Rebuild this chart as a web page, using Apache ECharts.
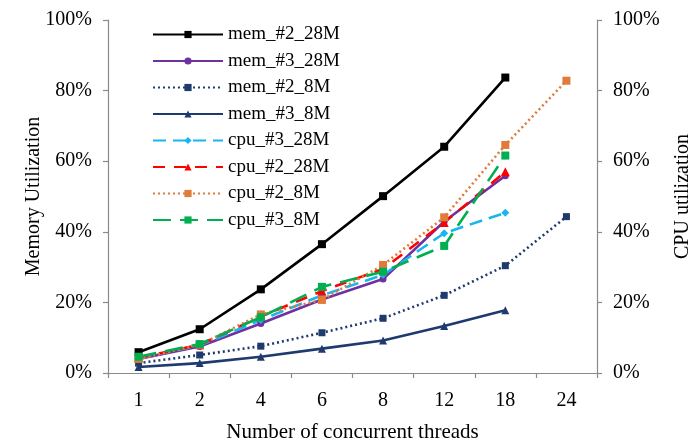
<!DOCTYPE html>
<html>
<head>
<meta charset="utf-8">
<script src="https://cdn.jsdelivr.net/npm/echarts@6/dist/echarts.min.js"></script>
<style>
  html, body { margin: 0; padding: 0; background: #fff; }
  #chart { width: 694px; height: 443px; }
</style>
</head>
<body>
<div id="chart"></div>
<script>
// Thread counts on the x axis
const threads = ['1', '2', '4', '6', '8', '12', '18', '24'];
const percentTicks = [0, 20, 40, 60, 80, 100];

// Memory utilization (%), left axis
const mem2_28M = [5.9, 12.4, 23.7, 36.5, 50.1, 64.1, 83.7, null];
const mem3_28M = [4.0, 7.5, 14.0, 20.8, 26.6, 42.9, 55.9, null];
const mem2_8M  = [2.8, 5.1, 7.6, 11.4, 15.5, 22.0, 30.4, 44.3];
const mem3_8M  = [1.7, 2.8, 4.6, 6.9, 9.2, 13.3, 17.8, null];

// CPU utilization (%), right axis
const cpu3_28M = [4.2, 7.8, 15.0, 22.0, 27.8, 39.6, 45.4, null];
const cpu2_28M = [4.3, 8.0, 16.0, 23.2, 29.5, 42.6, 57.0, null];
const cpu2_8M  = [4.0, 8.0, 16.6, 20.7, 30.6, 44.1, 64.6, 82.8];
const cpu3_8M  = [4.6, 8.2, 15.8, 24.4, 28.7, 36.0, 61.6, null];

const FONT = '"Liberation Serif", "DejaVu Serif", serif';
const AXIS_GRAY = '#8a8a8a';

function line(name, data, axis, color, symbol, size, type) {
  return {
    name: name,
    type: 'line',
    data: data,
    yAxisIndex: axis,
    symbol: symbol,
    symbolSize: size,
    showSymbol: true,
    connectNulls: false,
    itemStyle: { color: color },
    lineStyle: { color: color, width: 2.6, type: type, cap: 'butt' },
    emphasis: { disabled: true },
    animation: false
  };
}

const valueAxis = (position, name, gap) => ({
  type: 'value',
  position: position,
  min: percentTicks[0],
  max: percentTicks[percentTicks.length - 1],
  interval: 20,
  name: name,
  nameLocation: 'middle',
  nameGap: gap,
  nameRotate: 90,
  nameMoveOverlap: false,
  nameTextStyle: { fontFamily: FONT, fontSize: 20, color: '#000' },
  axisLine: { show: true, lineStyle: { color: AXIS_GRAY, width: 1.2 } },
  axisTick: { show: true, length: 5, lineStyle: { color: AXIS_GRAY, width: 1.2 } },
  axisLabel: {
    formatter: '{value}%',
    fontFamily: FONT, fontSize: 20, color: '#000', margin: 16
  },
  splitLine: { show: false }
});

const chart = echarts.init(document.getElementById('chart'), null, { renderer: 'canvas' });
chart.setOption({
  backgroundColor: '#fff',
  animation: false,
  grid: {
    left: 108, right: 97, top: 20, bottom: 70,
    containLabel: false,
    outerBoundsMode: 'none'
  },
  legend: {
    orient: 'vertical',
    left: 147,
    top: 20,
    itemWidth: 70,
    itemHeight: 9,
    itemGap: 7.5,
    textStyle: { fontFamily: FONT, fontSize: 19, color: '#000' },
    selectedMode: false
  },
  xAxis: {
    type: 'category',
    data: threads,
    boundaryGap: true,
    name: 'Number of concurrent threads',
    nameLocation: 'middle',
    nameGap: 49,
    nameMoveOverlap: false,
    nameTextStyle: { fontFamily: FONT, fontSize: 21, color: '#000' },
    axisLine: { show: true, lineStyle: { color: AXIS_GRAY, width: 1.2 } },
    axisTick: { show: true, length: 5, alignWithLabel: false, lineStyle: { color: AXIS_GRAY, width: 1.2 } },
    axisLabel: { fontFamily: FONT, fontSize: 20, color: '#000', margin: 18 }
  },
  yAxis: [
    valueAxis('left', 'Memory Utilization', 64),
    valueAxis('right', 'CPU utilization', 76)
  ],
  series: [
    line('mem_#2_28M', mem2_28M, 0, '#000000', 'rect', 8, 'solid'),
    line('mem_#3_28M', mem3_28M, 0, '#7030A0', 'circle', 7, 'solid'),
    line('mem_#2_8M',  mem2_8M,  0, '#1F3A6E', 'rect', 7, [2, 3]),
    line('mem_#3_8M',  mem3_8M,  0, '#1F3A6E', 'triangle', 8, 'solid'),
    line('cpu_#3_28M', cpu3_28M, 1, '#19B5EE', 'diamond', 8, [13, 7]),
    line('cpu_#2_28M', cpu2_28M, 1, '#FF0000', 'triangle', 9, [12, 9]),
    line('cpu_#2_8M',  cpu2_8M,  1, '#E07B39', 'rect', 8, [2, 3]),
    line('cpu_#3_8M',  cpu3_8M,  1, '#00B050', 'rect', 8, [18, 9])
  ]
});
</script>
</body>
</html>
